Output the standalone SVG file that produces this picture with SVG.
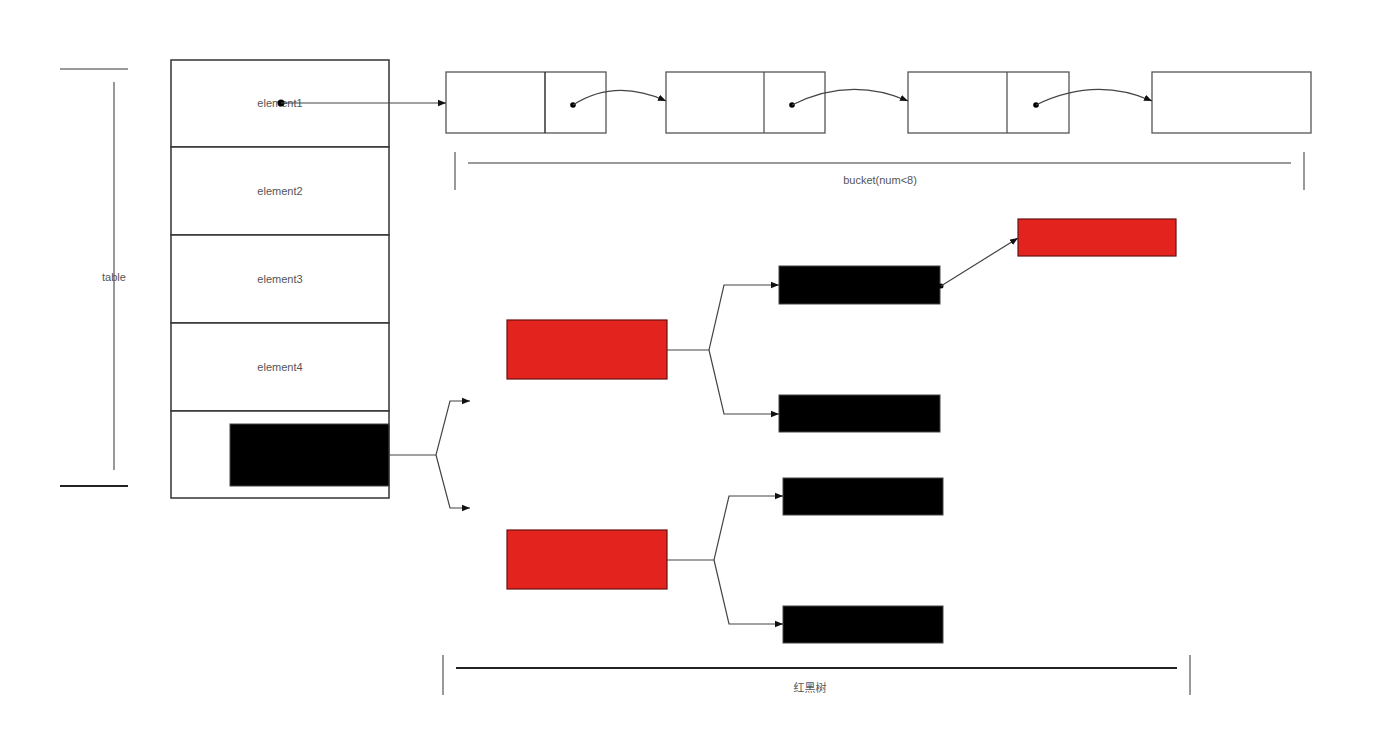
<svg xmlns="http://www.w3.org/2000/svg" width="1400" height="729" viewBox="0 0 1400 729">
<style>
.cell{fill:#fff;stroke:#333;stroke-width:1.5}
.box{fill:#fff;stroke:#555;stroke-width:1.3}
.red{fill:#e2231e;stroke:#6a1010;stroke-width:1.2}
.blk{fill:#000;stroke:#444;stroke-width:1}
.lbl{font-family:"Liberation Sans",Arial,sans-serif;font-size:11px;fill:#555;text-anchor:middle}
.cjk{font-family:"Liberation Sans","Noto Sans CJK SC",sans-serif;font-size:11px;fill:#555;text-anchor:middle}
.con{fill:none;stroke:#444;stroke-width:1.2}
.brk{fill:none;stroke:#999;stroke-width:2}
.brkd{fill:none;stroke:#222;stroke-width:2}
</style>
<defs>
<marker id="ah" viewBox="0 0 10 10" refX="10" refY="5" markerWidth="8" markerHeight="8" orient="auto" markerUnits="userSpaceOnUse">
<path d="M0,1 L10,5 L0,9 Z" fill="#111"/>
</marker>
</defs>
<rect width="1400" height="729" fill="#fff"/>
<g id="table-bracket">
<line class="brk" x1="60" y1="69" x2="128" y2="69"/>
<line class="brk" x1="114" y1="82" x2="114" y2="470"/>
<line class="brkd" x1="60" y1="486" x2="128" y2="486"/>
<text class="lbl" x="114" y="281">table</text>
</g>
<g id="table">
<rect class="cell" x="171" y="60" width="218" height="87"/>
<rect class="cell" x="171" y="147" width="218" height="88"/>
<rect class="cell" x="171" y="235" width="218" height="88"/>
<rect class="cell" x="171" y="323" width="218" height="88"/>
<rect class="cell" x="171" y="411" width="218" height="87"/>
<text class="lbl" x="280" y="107">element1</text>
<text class="lbl" x="280" y="195">element2</text>
<text class="lbl" x="280" y="283">element3</text>
<text class="lbl" x="280" y="371">element4</text>
</g>
<g id="table-tree-node"><rect class="blk" x="230" y="424" width="159" height="62"/></g>
<g id="bucket1"><rect class="box" x="446" y="72" width="160" height="61"/><line class="cell" x1="545" y1="72" x2="545" y2="133"/></g>
<g id="bucket2"><rect class="box" x="666" y="72" width="159" height="61"/><line class="box" x1="764" y1="72" x2="764" y2="133"/></g>
<g id="bucket3"><rect class="box" x="908" y="72" width="161" height="61"/><line class="box" x1="1007" y1="72" x2="1007" y2="133"/></g>
<g id="bucket4"><rect class="box" x="1152" y="72" width="159" height="61"/></g>
<g id="bucket-bracket">
<line class="brk" x1="455" y1="152" x2="455" y2="190" stroke-width="1.5"/>
<line class="brk" x1="1304" y1="152" x2="1304" y2="190" stroke-width="1.5"/>
<line class="brk" x1="468" y1="163" x2="1291" y2="163"/>
<text class="lbl" x="880" y="184">bucket(num&lt;8)</text>
</g>
<g id="red1"><rect class="red" x="507" y="320" width="160" height="59"/></g>
<g id="red2"><rect class="red" x="507" y="530" width="160" height="59"/></g>
<g id="red-top"><rect class="red" x="1018" y="219" width="158" height="37"/></g>
<g id="black1"><rect class="blk" x="779" y="266" width="161" height="38"/></g>
<g id="black2"><rect class="blk" x="779" y="395" width="161" height="37"/></g>
<g id="black3"><rect class="blk" x="783" y="478" width="160" height="37"/></g>
<g id="black4"><rect class="blk" x="783" y="606" width="160" height="37"/></g>
<g id="tree-bracket">
<line class="brk" x1="443" y1="655" x2="443" y2="695" stroke-width="1.5"/>
<line class="brk" x1="1190" y1="655" x2="1190" y2="695" stroke-width="1.5"/>
<line class="brkd" x1="456" y1="668" x2="1177" y2="668" stroke-width="2.5"/>
<text class="cjk" x="810" y="692">红黑树</text>
</g>
<g id="connectors">
<circle cx="281" cy="103" r="3.5" fill="#000"/>
<line class="con" x1="281" y1="103" x2="446" y2="103" marker-end="url(#ah)"/>
<circle cx="573" cy="105" r="2.8" fill="#000"/>
<path class="con" d="M573,105 Q615,78 666,101" marker-end="url(#ah)"/>
<circle cx="792" cy="105" r="2.8" fill="#000"/>
<path class="con" d="M792,105 Q850,76 908,101" marker-end="url(#ah)"/>
<circle cx="1036" cy="105" r="2.8" fill="#000"/>
<path class="con" d="M1036,105 Q1095,76 1152,101" marker-end="url(#ah)"/>
<path class="con" d="M389,455 L436,455 L450,401 L470,401" marker-end="url(#ah)"/>
<path class="con" d="M436,455 L450,508 L470,508" marker-end="url(#ah)"/>
<path class="con" d="M667,350 L709,350 L724,285 L779,285" marker-end="url(#ah)"/>
<path class="con" d="M709,350 L724,414 L779,414" marker-end="url(#ah)"/>
<path class="con" d="M667,560 L714,560 L729,496 L783,496" marker-end="url(#ah)"/>
<path class="con" d="M714,560 L729,624 L783,624" marker-end="url(#ah)"/>
<circle cx="941" cy="286" r="2.5" fill="#000"/>
<line class="con" x1="941" y1="286" x2="1018" y2="238" marker-end="url(#ah)"/>
</g>
</svg>
